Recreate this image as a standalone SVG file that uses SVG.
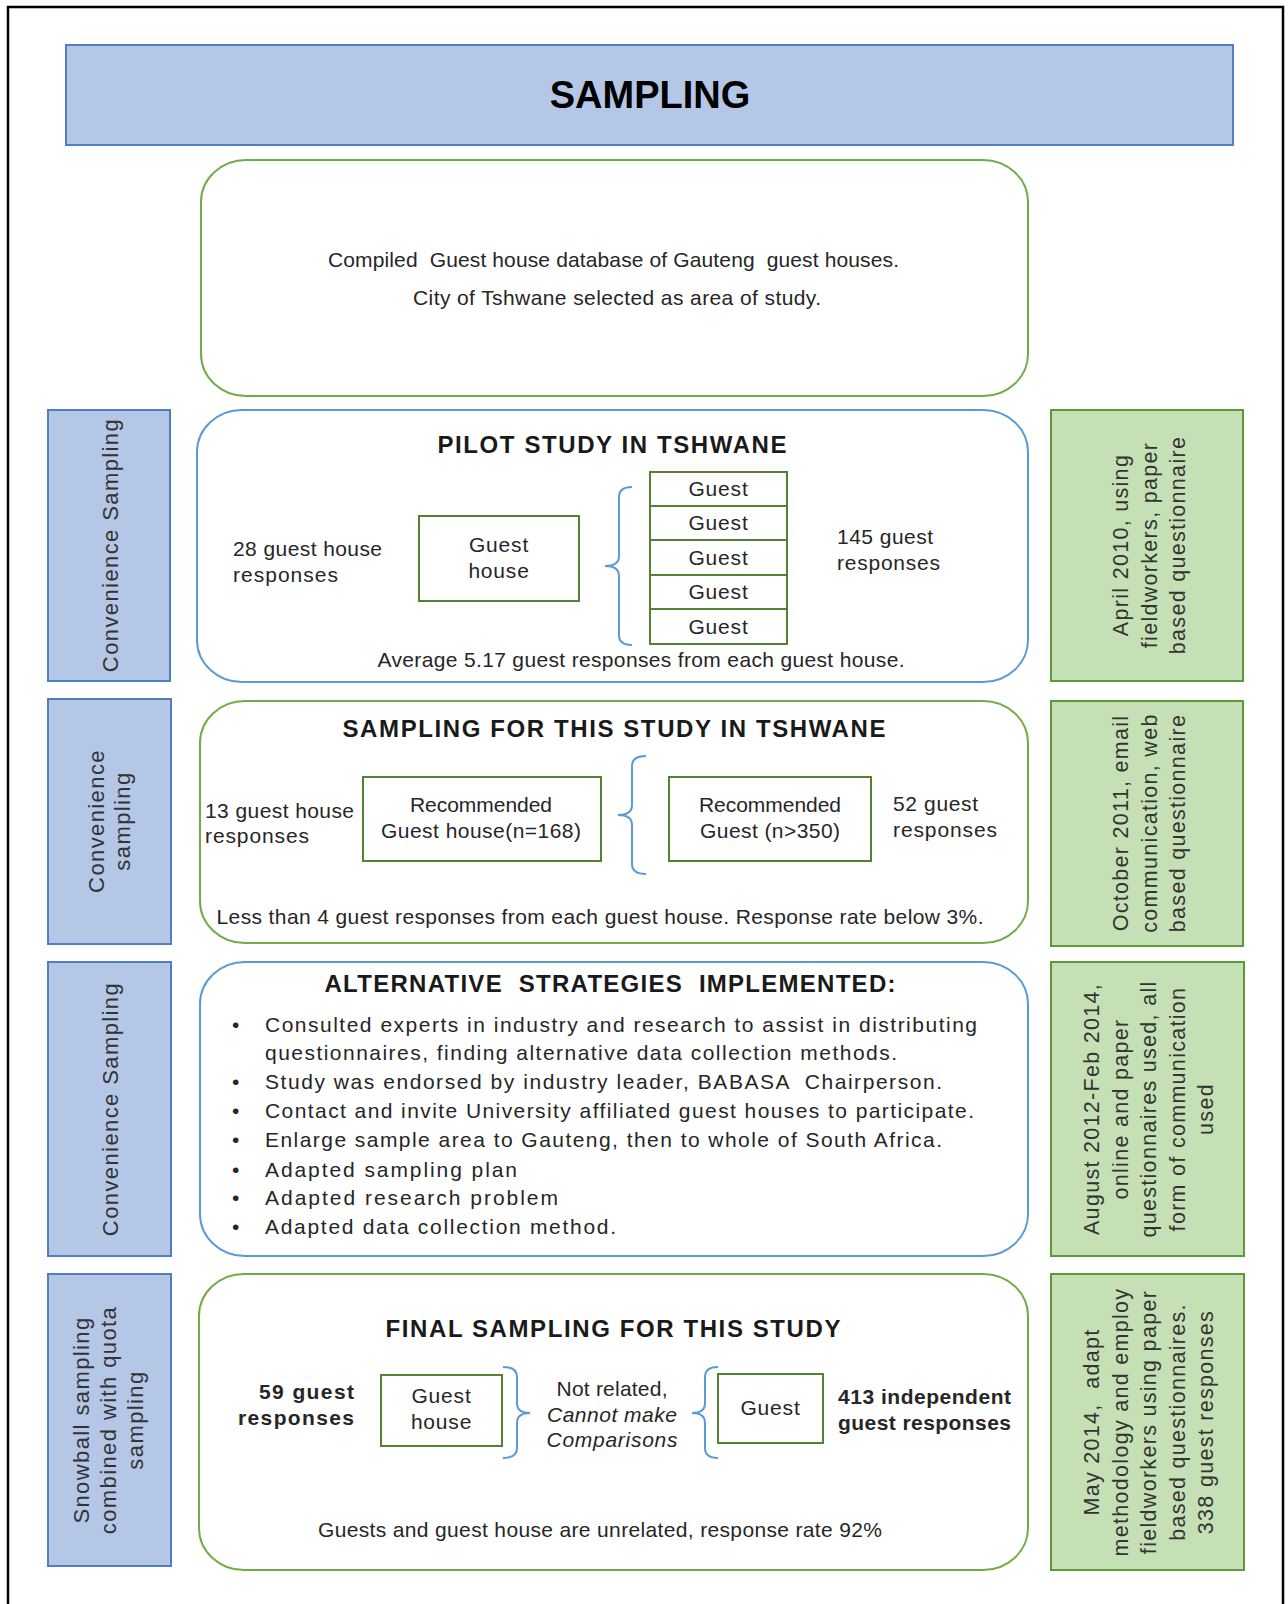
<svg xmlns="http://www.w3.org/2000/svg" width="1288" height="1604" viewBox="0 0 1288 1604">
<style>
text { font-family: "Liberation Sans", Arial, sans-serif; fill: #262626; }
.t { font-size: 21px; }
.b { font-weight: bold; }
.ti { font-size: 24px; font-weight: bold; fill: #1a1a1a; }
.it { font-style: italic; }
.pre { white-space: pre; }
.sl { font-size: 22px; letter-spacing: 1.4px; fill: #333; }
.sr { font-size: 21.5px; letter-spacing: 1.3px; fill: #333; }
.pl { fill: #b4c7e7; stroke: #4f7fbe; stroke-width: 2; }
.pr { fill: #c5e0b4; stroke: #5e9a3a; stroke-width: 2; }
.rg { fill: #fff; stroke: #70ad47; stroke-width: 2; }
.rb { fill: #fff; stroke: #5b9bd5; stroke-width: 2; }
.ib { fill: #fff; stroke: #548235; stroke-width: 2; }
.br { fill: none; stroke: #5b9bd5; stroke-width: 2; }
</style>
<rect width="1288" height="1604" fill="#fff"/>
<path d="M 8 1604 V 7 H 1283 V 1604" fill="none" stroke="#000" stroke-width="2.5"/>

<g id="header">
<rect x="66" y="45" width="1167" height="100" fill="#b4c7e7" stroke="#4f7fbe" stroke-width="2"/>
<text x="650" y="108" text-anchor="middle" style="font-size:38px;font-weight:bold;fill:#000">SAMPLING</text>
</g>

<g id="database">
<rect class="rg" x="201" y="160" width="827" height="236" rx="45" ry="42"/>
<text class="t pre" x="613.5" y="267" text-anchor="middle" textLength="571" lengthAdjust="spacing">Compiled  Guest house database of Gauteng  guest houses.</text>
<text class="t" x="617" y="305" text-anchor="middle" textLength="408" lengthAdjust="spacing">City of Tshwane selected as area of study.</text>
</g>

<!-- Row 1: pilot -->
<g id="side-pilot">
<rect class="pl" x="48" y="410" width="122" height="271"/>
<g transform="translate(109.5,545) rotate(-90)"><text class="sl" text-anchor="middle" y="8">Convenience Sampling</text></g>
</g>
<g id="pilot">
<rect class="rb" x="197" y="410" width="831" height="272" rx="45" ry="42"/>
<text class="ti" x="612" y="453" text-anchor="middle" textLength="349" lengthAdjust="spacing">PILOT STUDY IN TSHWANE</text>
<text class="t" x="233" y="556" textLength="149" lengthAdjust="spacing">28 guest house</text>
<text class="t" x="233" y="582" textLength="105" lengthAdjust="spacing">responses</text>
<text class="t" x="837" y="544" textLength="96" lengthAdjust="spacing">145 guest</text>
<text class="t" x="837" y="570" textLength="103" lengthAdjust="spacing">responses</text>
<text class="t" x="641" y="667" text-anchor="middle" textLength="527" lengthAdjust="spacing">Average 5.17 guest responses from each guest house.</text>
</g>
<g id="pilot-guesthouse">
<rect class="ib" x="419" y="516" width="160" height="85"/>
<text class="t" x="499" y="552" text-anchor="middle" letter-spacing="0.8">Guest</text>
<text class="t" x="499" y="578" text-anchor="middle" letter-spacing="0.8">house</text>
</g>
<g id="pilot-guests">
<rect class="ib" x="650" y="472" width="137" height="34"/>
<rect class="ib" x="650" y="506" width="137" height="34"/>
<rect class="ib" x="650" y="540" width="137" height="35"/>
<rect class="ib" x="650" y="575" width="137" height="34"/>
<rect class="ib" x="650" y="609" width="137" height="35"/>
<text class="t" x="718.5" y="496" text-anchor="middle" letter-spacing="0.8">Guest</text>
<text class="t" x="718.5" y="530" text-anchor="middle" letter-spacing="0.8">Guest</text>
<text class="t" x="718.5" y="564.5" text-anchor="middle" letter-spacing="0.8">Guest</text>
<text class="t" x="718.5" y="599" text-anchor="middle" letter-spacing="0.8">Guest</text>
<text class="t" x="718.5" y="633.5" text-anchor="middle" letter-spacing="0.8">Guest</text>
</g>
<g id="note-pilot">
<rect class="pr" x="1051" y="410" width="192" height="271"/>
<g transform="translate(1147,545) rotate(-90)">
<text class="sr" text-anchor="middle" y="-19">April 2010, using</text>
<text class="sr" text-anchor="middle" y="9.5">fieldworkers, paper</text>
<text class="sr" text-anchor="middle" y="38">based questionnaire</text>
</g>
</g>

<!-- Row 2 -->
<g id="side-study">
<rect class="pl" x="48" y="699" width="123" height="245"/>
<g transform="translate(109.5,821) rotate(-90)">
<text class="sl" text-anchor="middle" y="-5.5">Convenience</text>
<text class="sl" text-anchor="middle" y="20.5">sampling</text>
</g>
</g>
<g id="study">
<rect class="rg" x="200" y="701" width="828" height="242" rx="45" ry="42"/>
<text class="ti" x="614" y="737" text-anchor="middle" textLength="543" lengthAdjust="spacing">SAMPLING FOR THIS STUDY IN TSHWANE</text>
<text class="t" x="205" y="818" textLength="149" lengthAdjust="spacing">13 guest house</text>
<text class="t" x="205" y="843" textLength="104" lengthAdjust="spacing">responses</text>
<text class="t" x="893" y="811" textLength="85" lengthAdjust="spacing">52 guest</text>
<text class="t" x="893" y="837" textLength="104" lengthAdjust="spacing">responses</text>
<text class="t" x="600" y="924" text-anchor="middle" textLength="767" lengthAdjust="spacing">Less than 4 guest responses from each guest house. Response rate below 3%.</text>
</g>
<g id="study-guesthouse">
<rect class="ib" x="363" y="777" width="238" height="84"/>
<text class="t" x="481" y="812" text-anchor="middle" textLength="142" lengthAdjust="spacing">Recommended</text>
<text class="t" x="481" y="838" text-anchor="middle" textLength="200" lengthAdjust="spacing">Guest house(n=168)</text>
</g>
<g id="study-guest">
<rect class="ib" x="669" y="777" width="202" height="84"/>
<text class="t" x="770" y="812" text-anchor="middle" textLength="142" lengthAdjust="spacing">Recommended</text>
<text class="t" x="770" y="838" text-anchor="middle" textLength="140" lengthAdjust="spacing">Guest (n&gt;350)</text>
</g>
<g id="note-study">
<rect class="pr" x="1051" y="701" width="192" height="245"/>
<g transform="translate(1147,823) rotate(-90)">
<text class="sr" text-anchor="middle" y="-19">October 2011, email</text>
<text class="sr" text-anchor="middle" y="9.5">communication, web</text>
<text class="sr" text-anchor="middle" y="38">based questionnaire</text>
</g>
</g>

<!-- Row 3 -->
<g id="side-alt">
<rect class="pl" x="48" y="962" width="123" height="294"/>
<g transform="translate(109.5,1109) rotate(-90)"><text class="sl" text-anchor="middle" y="8">Convenience Sampling</text></g>
</g>
<g id="alternatives">
<rect class="rb" x="200" y="962" width="828" height="294" rx="45" ry="42"/>
<text class="ti pre" x="610" y="992" text-anchor="middle" textLength="571" lengthAdjust="spacing">ALTERNATIVE  STRATEGIES  IMPLEMENTED:</text>
<text class="t" x="232" y="1032">•</text>
<text class="t" x="265" y="1032" textLength="712" lengthAdjust="spacing">Consulted experts in industry and research to assist in distributing</text>
<text class="t" x="265" y="1060" textLength="632" lengthAdjust="spacing">questionnaires, finding alternative data collection methods.</text>
<text class="t" x="232" y="1089">•</text>
<text class="t pre" x="265" y="1089" textLength="677" lengthAdjust="spacing">Study was endorsed by industry leader, BABASA  Chairperson.</text>
<text class="t" x="232" y="1118">•</text>
<text class="t" x="265" y="1118" textLength="709" lengthAdjust="spacing">Contact and invite University affiliated guest houses to participate.</text>
<text class="t" x="232" y="1147">•</text>
<text class="t" x="265" y="1147" textLength="677" lengthAdjust="spacing">Enlarge sample area to Gauteng, then to whole of South Africa.</text>
<text class="t" x="232" y="1177">•</text>
<text class="t" x="265" y="1177" textLength="252" lengthAdjust="spacing">Adapted sampling plan</text>
<text class="t" x="232" y="1205">•</text>
<text class="t" x="265" y="1205" textLength="293" lengthAdjust="spacing">Adapted research problem</text>
<text class="t" x="232" y="1234">•</text>
<text class="t" x="265" y="1234" textLength="351" lengthAdjust="spacing">Adapted data collection method.</text>
</g>
<g id="note-alt">
<rect class="pr" x="1051" y="962" width="193" height="294"/>
<g transform="translate(1147,1109) rotate(-90)">
<text class="sr" text-anchor="middle" y="-48">August 2012-Feb 2014,</text>
<text class="sr" text-anchor="middle" y="-19.5">online and paper</text>
<text class="sr" text-anchor="middle" y="9">questionnaires used, all</text>
<text class="sr" text-anchor="middle" y="37.5">form of communication</text>
<text class="sr" text-anchor="middle" y="66">used</text>
</g>
</g>

<!-- Row 4 -->
<g id="side-final">
<rect class="pl" x="48" y="1274" width="123" height="292"/>
<g transform="translate(109.5,1420) rotate(-90)">
<text class="sl" text-anchor="middle" y="-20.5">Snowball sampling</text>
<text class="sl" text-anchor="middle" y="6.5">combined with quota</text>
<text class="sl" text-anchor="middle" y="33.5">sampling</text>
</g>
</g>
<g id="final">
<rect class="rg" x="199" y="1274" width="829" height="296" rx="45" ry="42"/>
<text class="ti" x="613" y="1337" text-anchor="middle" textLength="455" lengthAdjust="spacing">FINAL SAMPLING FOR THIS STUDY</text>
<text class="t b" x="354" y="1399" text-anchor="end" textLength="95" lengthAdjust="spacing">59 guest</text>
<text class="t b" x="354" y="1425" text-anchor="end" textLength="116" lengthAdjust="spacing">responses</text>
<text class="t" x="612" y="1396" text-anchor="middle" textLength="111" lengthAdjust="spacing">Not related,</text>
<text class="t it" x="612" y="1422" text-anchor="middle" textLength="130" lengthAdjust="spacing">Cannot make</text>
<text class="t it" x="612" y="1447" text-anchor="middle" textLength="131" lengthAdjust="spacing">Comparisons</text>
<text class="t b" x="838" y="1404" textLength="173" lengthAdjust="spacing">413 independent</text>
<text class="t b" x="838" y="1430" textLength="173" lengthAdjust="spacing">guest responses</text>
<text class="t" x="600" y="1537" text-anchor="middle" textLength="564" lengthAdjust="spacing">Guests and guest house are unrelated, response rate 92%</text>
</g>
<g id="final-guesthouse">
<rect class="ib" x="381" y="1375" width="121" height="71"/>
<text class="t" x="441.5" y="1403" text-anchor="middle" letter-spacing="0.8">Guest</text>
<text class="t" x="441.5" y="1429" text-anchor="middle" letter-spacing="0.8">house</text>
</g>
<g id="final-guest">
<rect class="ib" x="718" y="1374" width="105" height="69"/>
<text class="t" x="770.5" y="1415" text-anchor="middle" letter-spacing="0.8">Guest</text>
</g>
<g id="note-final">
<rect class="pr" x="1051" y="1274" width="193" height="296"/>
<g transform="translate(1147,1422) rotate(-90)">
<text class="sr pre" text-anchor="middle" y="-48">May 2014,  adapt</text>
<text class="sr" text-anchor="middle" y="-19.5">methodology and employ</text>
<text class="sr" text-anchor="middle" y="9">fieldworkers using paper</text>
<text class="sr" text-anchor="middle" y="37.5">based questionnaires.</text>
<text class="sr" text-anchor="middle" y="66">338 guest responses</text>
</g>
</g>

<g id="connectors">
<path class="br" d="M 632 487 Q 619 487 619 497 L 619 556 Q 619 566 605 566 Q 619 566 619 576 L 619 635 Q 619 645 632 645"/>
<path class="br" d="M 646 756 Q 632 756 632 766 L 632 805 Q 632 815 618 815 Q 632 815 632 825 L 632 864 Q 632 874 646 874"/>
<path class="br" d="M 503 1367 Q 517 1367 517 1377 L 517 1403 Q 517 1413 530 1413 Q 517 1413 517 1423 L 517 1448 Q 517 1458 503 1458"/>
<path class="br" d="M 718 1367 Q 705 1367 705 1377 L 705 1403 Q 705 1413 692 1413 Q 705 1413 705 1423 L 705 1448 Q 705 1458 718 1458"/>
</g>
</svg>
